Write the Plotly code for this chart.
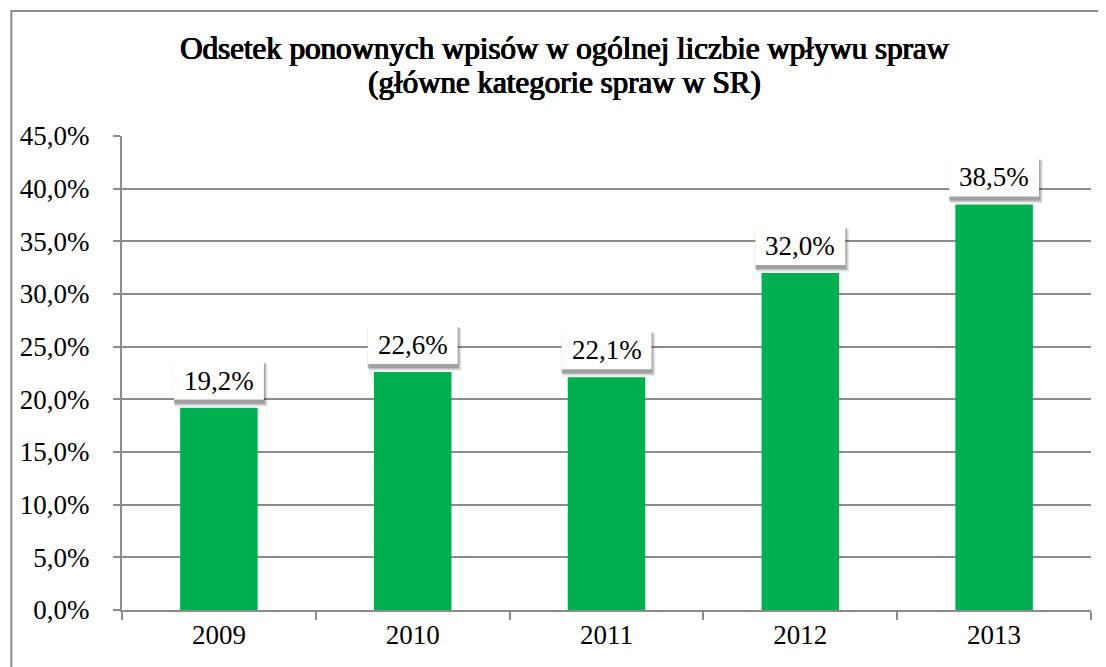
import plotly.graph_objects as go

years = ["2009", "2010", "2011", "2012", "2013"]
values = [19.2, 22.6, 22.1, 32.0, 38.5]
labels = ["19,2%", "22,6%", "22,1%", "32,0%", "38,5%"]
tick_vals = [0, 5, 10, 15, 20, 25, 30, 35, 40, 45]
tick_text = ["0,0%", "5,0%", "10,0%", "15,0%", "20,0%", "25,0%", "30,0%", "35,0%", "40,0%", "45,0%"]
title_lines = ["Odsetek ponownych wpisów w ogólnej liczbie wpływu spraw",
               "(główne kategorie spraw w SR)"]

FONT = "Liberation Serif"
# the page body adds an 8px offset; the figure is sized so the plot lands where it should
OFF = 8
W, H = 1098, 659
L, R, T, B = 111, 15, 128, 57
PW, PH = W - L - R, H - T - B


def px_x(X):
    return (X - OFF - L) / PW


def px_y(Y):
    return 1 + (T - (Y - OFF)) / PH


fig = go.Figure()
fig.add_trace(go.Bar(x=years, y=values, marker=dict(color="#00B050", line=dict(width=0)),
                     hoverinfo="skip"))

shapes = []
annotations = []
for i, (yr, v, lab) in enumerate(zip(years, values, labels)):
    for (x0, x1, y0, y1, a) in [(-44, 49, 1, 44, 0.06), (-44, 48, 2, 44, 0.09),
                                (-45, 47, 3, 45, 0.12), (-45, 46, 4, 45, 0.16)]:
        shapes.append(dict(type="rect", layer="above", xref="x", yref="y",
                           xsizemode="pixel", ysizemode="pixel", xanchor=i, yanchor=v,
                           x0=x0, x1=x1, y0=y0, y1=y1,
                           fillcolor=f"rgba(0,0,0,{a})", line=dict(width=0)))
    shapes.append(dict(type="rect", layer="above", xref="x", yref="y",
                       xsizemode="pixel", ysizemode="pixel", xanchor=i, yanchor=v,
                       x0=-45, x1=45, y0=8, y1=46,
                       fillcolor="white", line=dict(width=0)))
    annotations.append(dict(x=i, y=v, xref="x", yref="y", text=lab, showarrow=False,
                            yanchor="middle", yshift=27,
                            font=dict(family=FONT, size=27, color="black")))

# title as two centred lines (bold look via a thin text shadow)
for line, yc in zip(title_lines, [48, 83]):
    annotations.append(dict(x=px_x(563), y=px_y(yc), xref="paper", yref="paper",
                            text=line, showarrow=False, xanchor="center", yanchor="middle",
                            font=dict(family=FONT, size=31, color="black",
                                      shadow="0.8px 0 0 black, 0.4px 0 0 black, -0.3px 0 0 black, 0 0.4px 0 black")))

# outer border (right and bottom edges lie outside the picture)
shapes.append(dict(type="rect", xref="paper", yref="paper", layer="above",
                   x0=px_x(8), x1=1.1, y0=-0.3, y1=px_y(11),
                   line=dict(color="#8c8c8c", width=2), fillcolor="rgba(0,0,0,0)"))

fig.update_layout(
    width=W, height=H,
    margin=dict(l=L, r=R, t=T, b=B),
    paper_bgcolor="white", plot_bgcolor="white",
    showlegend=False,
    bargap=0.6,
    font=dict(family=FONT, size=27, color="black"),
    shapes=shapes,
    annotations=annotations,
    xaxis=dict(type="category", range=[-0.5, 4.5], showline=True, linecolor="#8c8c8c", linewidth=2,
               ticks="outside", tickson="boundaries", ticklen=8, tickcolor="#8c8c8c", tickwidth=2,
               showgrid=False, tickangle=0, tickfont=dict(family=FONT, size=27, color="black")),
    yaxis=dict(range=[0, 45], tickvals=tick_vals, ticktext=tick_text,
               showline=True, linecolor="#8c8c8c", linewidth=2,
               ticks="outside", ticklen=7, tickcolor="#8c8c8c", tickwidth=2,
               showgrid=True, gridcolor="#8c8c8c", gridwidth=1.5, zeroline=False,
               ticklabelstandoff=18,
               tickfont=dict(family=FONT, size=27, color="black")),
)

fig.write_html("out.html")
